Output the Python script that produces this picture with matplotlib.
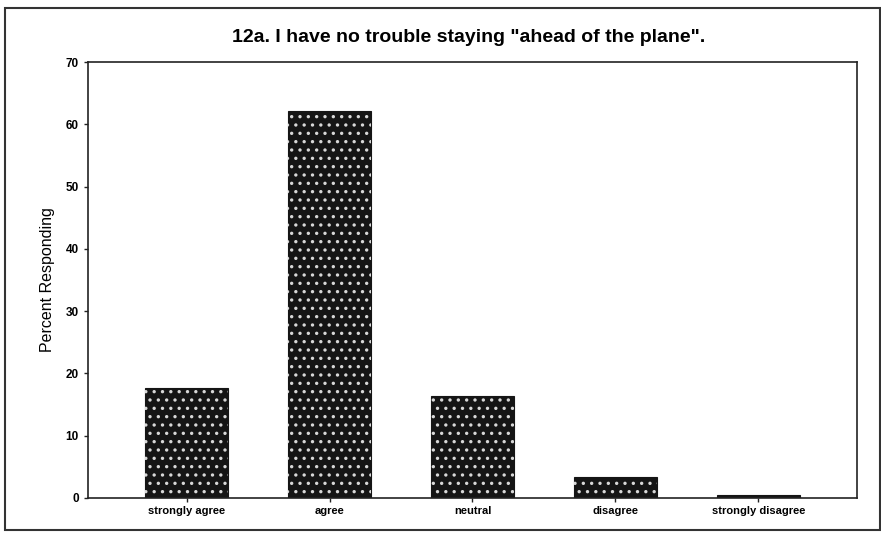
import matplotlib
matplotlib.use("Agg")
import matplotlib.pyplot as plt
from matplotlib.patches import Rectangle

# survey item 12a responses
categories = ["strongly agree", "agree", "neutral", "disagree", "strongly disagree"]
percents = [17.7, 62.1, 16.3, 3.3, 0.5]
yticks = [0, 10, 20, 30, 40, 50, 60, 70]

plt.rcParams['font.family'] = ['Liberation Sans', 'DejaVu Sans']

fig = plt.figure(figsize=(8.81, 5.33), dpi=100)
ax = fig.add_axes([88 / 881, 1 - 498 / 533, (857 - 88) / 881, (498 - 62) / 533])

x = list(range(len(categories)))
# dark bars with white dot pattern on top
ax.bar(x, percents, width=0.58, color="#151515", edgecolor="#151515", linewidth=0.8, zorder=2)
plt.rcParams['hatch.linewidth'] = 1.2
ax.bar(x, percents, width=0.58, fill=False, edgecolor="#d8d8d8", hatch="..", linewidth=0, zorder=3)

ax.set_xlim(-0.69, 4.69)
ax.set_ylim(0, 70)
ax.set_yticks(yticks)
ax.set_yticklabels([str(t) for t in yticks], fontsize=8.5, fontweight="bold")
ax.set_xticks(x)
ax.set_xticklabels(categories, fontsize=8, fontweight="bold")
ax.tick_params(axis="both", length=3, width=1, color="#222222")
ax.tick_params(axis="x", pad=3)
for s in ax.spines.values():
    s.set_linewidth(1.2)
    s.set_color("#222222")

ax.set_ylabel("Percent Responding", fontsize=11.5, labelpad=8)
fig.text(469 / 881, 1 - 37 / 533, "12a. I have no trouble staying \"ahead of the plane\".",
         ha="center", va="center", fontsize=14, fontweight="bold")

# outer frame around the figure
fig.patches.append(Rectangle((5 / 881, 1 - 530 / 533), 875 / 881, 522 / 533,
                             transform=fig.transFigure, fill=False,
                             edgecolor="#333333", linewidth=1.5))

fig.savefig("out.png", dpi=100)
